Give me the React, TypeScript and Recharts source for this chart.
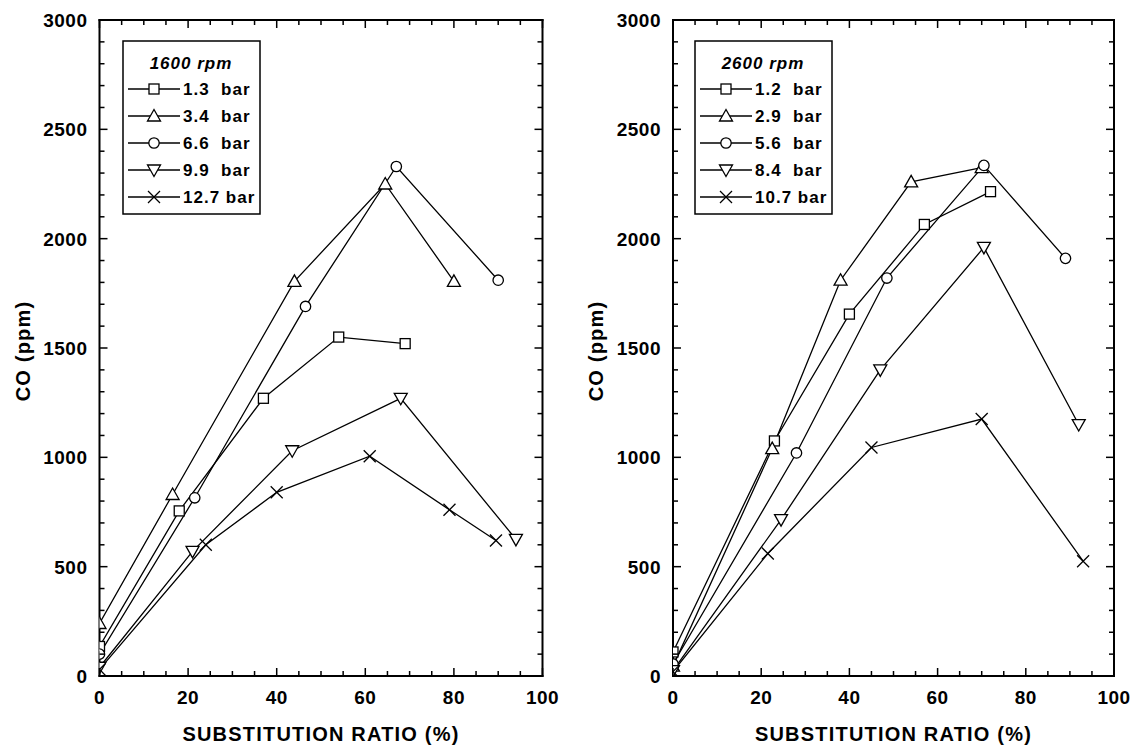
import React from 'react';
import { LineChart, Line, XAxis, YAxis, Legend } from 'recharts';

// ---------- data: 1600 rpm ----------
const leftTitle = '1600 rpm';
const leftNames = ['1.3  bar', '3.4  bar', '6.6  bar', '9.9  bar', '12.7 bar'];
const l13x = [0, 18, 37, 54, 69];
const l13y = [135, 755, 1270, 1550, 1520];
const l34x = [0, 16.5, 44, 64.5, 80];
const l34y = [240, 830, 1805, 2250, 1805];
const l66x = [0, 21.5, 46.5, 67, 90];
const l66y = [100, 815, 1690, 2330, 1810];
const l99x = [0, 21, 43.5, 68, 94];
const l99y = [40, 570, 1030, 1270, 625];
const l127x = [0, 24, 40, 61, 79, 89.5];
const l127y = [30, 600, 840, 1005, 760, 620];

// ---------- data: 2600 rpm ----------
const rightTitle = '2600 rpm';
const rightNames = ['1.2  bar', '2.9  bar', '5.6  bar', '8.4  bar', '10.7 bar'];
const r12x = [0, 23, 40, 57, 72];
const r12y = [110, 1075, 1655, 2065, 2215];
const r29x = [0, 22.5, 38, 54, 70];
const r29y = [45, 1040, 1810, 2260, 2325];
const r56x = [0, 28, 48.5, 70.5, 89];
const r56y = [55, 1020, 1820, 2335, 1910];
const r84x = [0, 24.5, 47, 70.5, 92];
const r84y = [25, 715, 1400, 1960, 1150];
const r107x = [0, 21.5, 45, 70, 93];
const r107y = [20, 560, 1045, 1175, 525];

// ---------- axes ----------
const xTicks = [0, 5, 10, 15, 20, 25, 30, 35, 40, 45, 50, 55, 60, 65, 70, 75, 80, 85, 90, 95, 100];
const yTicks = Array.from({ length: 31 }, (_, i) => i * 100);
const xLabel = 'SUBSTITUTION RATIO (%)';
const yLabel = 'CO (ppm)';

const shapes = ['square', 'tri', 'circle', 'dtri', 'x'];

const FONT = '"Liberation Sans", Arial, Helvetica, sans-serif';

const zip = (xs: number[], ys: number[]) => xs.map((x, i) => ({ x, y: ys[i] }));

function Marker({ shape, cx, cy }: { shape: string; cx: number; cy: number }) {
  const st = { fill: '#fff', stroke: '#000', strokeWidth: 1.3 };
  switch (shape) {
    case 'square':
      return <rect x={cx - 5} y={cy - 5} width={10} height={10} {...st} />;
    case 'circle':
      return <circle cx={cx} cy={cy} r={5.2} {...st} />;
    case 'tri':
      return <polygon points={`${cx},${cy - 6.5} ${cx + 6.5},${cy + 5} ${cx - 6.5},${cy + 5}`} {...st} />;
    case 'dtri':
      return <polygon points={`${cx},${cy + 6.5} ${cx + 6.5},${cy - 5} ${cx - 6.5},${cy - 5}`} {...st} />;
    default:
      return (
        <g stroke="#000" strokeWidth={1.3}>
          <line x1={cx - 6} y1={cy - 6} x2={cx + 6} y2={cy + 6} />
          <line x1={cx - 6} y1={cy + 6} x2={cx + 6} y2={cy - 6} />
        </g>
      );
  }
}

const tickText = { fontFamily: FONT, fontWeight: 700, fontSize: 19, letterSpacing: 0.5, fill: '#000' };

const BottomTick = (p: any) => {
  const v = p.payload.value;
  const major = v % 20 === 0;
  return (
    <g>
      <line x1={p.x} x2={p.x} y1={p.y} y2={p.y - (major ? 8 : 5)} stroke="#000" strokeWidth={1.5} />
      {major && (
        <text x={p.x} y={p.y + 28} textAnchor="middle" style={tickText}>
          {v}
        </text>
      )}
    </g>
  );
};
const TopTick = (p: any) => {
  const v = p.payload.value;
  const major = v % 20 === 0;
  return <line x1={p.x} x2={p.x} y1={p.y} y2={p.y + (major ? 8 : 5)} stroke="#000" strokeWidth={1.5} />;
};
const LeftTick = (p: any) => {
  const v = p.payload.value;
  const major = v % 500 === 0;
  return (
    <g>
      <line x1={p.x} x2={p.x + (major ? 8 : 5)} y1={p.y} y2={p.y} stroke="#000" strokeWidth={1.5} />
      {major && (
        <text x={p.x - 12} y={p.y + 7} textAnchor="end" style={tickText}>
          {v}
        </text>
      )}
    </g>
  );
};
const RightTick = (p: any) => {
  const v = p.payload.value;
  const major = v % 500 === 0;
  return <line x1={p.x} x2={p.x - (major ? 8 : 5)} y1={p.y} y2={p.y} stroke="#000" strokeWidth={1.5} />;
};

const labelStyle = { fontFamily: FONT, fontWeight: 700, fontSize: 20, letterSpacing: 1.2, fill: '#000' };

const XLabel = (p: any) => {
  const vb = p.viewBox;
  return (
    <text x={vb.x + vb.width / 2} y={vb.y + 65} textAnchor="middle" style={labelStyle}>
      {xLabel}
    </text>
  );
};
const YLabel = (p: any) => {
  const vb = p.viewBox;
  const cx = vb.x + vb.width - 70;
  const cy = vb.y + vb.height / 2 + 3;
  return (
    <text x={0} y={0} transform={`translate(${cx},${cy}) rotate(-90)`} textAnchor="middle" style={labelStyle}>
      {yLabel}
    </text>
  );
};

function LegendBox({ title, names }: { title: string; names: string[] }) {
  const txt = { fontFamily: FONT, fontWeight: 700, fontSize: 17, letterSpacing: 1, fill: '#000' };
  return (
    <svg width={140} height={176} style={{ display: 'block' }}>
      <rect x={1} y={1} width={137} height={173} fill="#fff" stroke="#000" strokeWidth={1.5} />
      <text x={69} y={29} textAnchor="middle" style={{ ...txt, fontStyle: 'italic' }}>
        {title}
      </text>
      {names.map((n, i) => {
        const cy = 49 + i * 27;
        return (
          <g key={n}>
            <line x1={6} x2={58} y1={cy} y2={cy} stroke="#000" strokeWidth={1.3} />
            <Marker shape={shapes[i]} cx={32} cy={cy} />
            <text x={61} y={cy + 6} style={{ ...txt, whiteSpace: 'pre' }} xmlSpace="preserve">
              {n}
            </text>
          </g>
        );
      })}
    </svg>
  );
}

function Panel({
  width,
  marginLeft,
  marginRight,
  series,
  names,
  title,
  legendLeft,
}: {
  width: number;
  marginLeft: number;
  marginRight: number;
  series: { x: number; y: number }[][];
  names: string[];
  title: string;
  legendLeft: number;
}) {
  return (
    <LineChart
      width={width}
      height={749}
      margin={{ top: 19, right: marginRight, bottom: 72, left: marginLeft }}
    >
      <XAxis
        xAxisId="b"
        type="number"
        dataKey="x"
        domain={[0, 100]}
        ticks={xTicks}
        interval={0}
        allowDataOverflow
        height={1}
        tickSize={0}
        tickMargin={0}
        tickLine={false}
        tick={<BottomTick />}
        axisLine={{ stroke: '#000', strokeWidth: 2, strokeLinecap: 'square' }}
        label={<XLabel />}
      />
      <XAxis
        xAxisId="t"
        orientation="top"
        type="number"
        dataKey="x"
        domain={[0, 100]}
        ticks={xTicks}
        interval={0}
        allowDataOverflow
        height={1}
        tickSize={0}
        tickMargin={0}
        tickLine={false}
        tick={<TopTick />}
        axisLine={{ stroke: '#000', strokeWidth: 2, strokeLinecap: 'square' }}
      />
      <YAxis
        yAxisId="l"
        type="number"
        domain={[0, 3000]}
        ticks={yTicks}
        interval={0}
        allowDataOverflow
        width={1}
        tickSize={0}
        tickMargin={0}
        tickLine={false}
        tick={<LeftTick />}
        axisLine={{ stroke: '#000', strokeWidth: 2, strokeLinecap: 'square' }}
        label={<YLabel />}
      />
      <YAxis
        yAxisId="r"
        orientation="right"
        type="number"
        domain={[0, 3000]}
        ticks={yTicks}
        interval={0}
        allowDataOverflow
        width={1}
        tickSize={0}
        tickMargin={0}
        tickLine={false}
        tick={<RightTick />}
        axisLine={{ stroke: '#000', strokeWidth: 2, strokeLinecap: 'square' }}
      />
      {series.map((d, i) => (
        <Line
          key={names[i]}
          xAxisId="b"
          yAxisId="l"
          data={d}
          dataKey="y"
          name={names[i]}
          type="linear"
          stroke="#000"
          strokeWidth={1.3}
          isAnimationActive={false}
          activeDot={false}
          dot={(p: any) => <Marker key={`${i}-${p.index}`} shape={shapes[i]} cx={p.cx} cy={p.cy} />}
        />
      ))}
      <Legend
        layout="horizontal"
        verticalAlign="middle"
        align="center"
        wrapperStyle={{ position: 'absolute', left: legendLeft, top: 40, width: 140, height: 176, margin: 0 }}
        content={() => <LegendBox title={title} names={names} />}
      />
    </LineChart>
  );
}

export default function App() {
  const left = [zip(l13x, l13y), zip(l34x, l34y), zip(l66x, l66y), zip(l99x, l99y), zip(l127x, l127y)];
  const right = [zip(r12x, r12y), zip(r29x, r29y), zip(r56x, r56y), zip(r84x, r84y), zip(r107x, r107y)];
  return (
    <div style={{ position: 'absolute', left: 0, top: 0, width: 1135, height: 749, background: '#fff' }}>
      <div style={{ position: 'absolute', left: 0, top: 0 }}>
        <Panel
          width={560}
          marginLeft={98.5}
          marginRight={16.5}
          series={left}
          names={leftNames}
          title={leftTitle}
          legendLeft={122}
        />
      </div>
      <div style={{ position: 'absolute', left: 560, top: 0 }}>
        <Panel
          width={575}
          marginLeft={112}
          marginRight={20}
          series={right}
          names={rightNames}
          title={rightTitle}
          legendLeft={134}
        />
      </div>
    </div>
  );
}
